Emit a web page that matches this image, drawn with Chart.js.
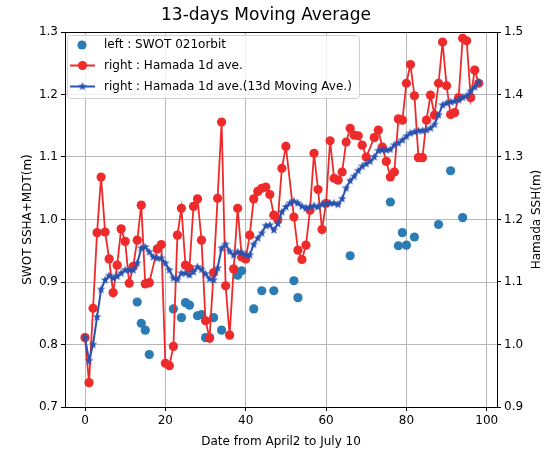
<!DOCTYPE html>
<html>
<head>
<meta charset="utf-8">
<script src="https://cdn.jsdelivr.net/npm/chart.js@4.4.0/dist/chart.umd.min.js"></script>
<style>
  html, body { margin: 0; padding: 0; background: #fff; }
  #wrap { width: 556px; height: 454px; }
</style>
</head>
<body>
<div id="wrap"><canvas id="chart" width="556" height="454"></canvas></div>
<script>
// ============================================
// 13-days Moving Average (SWOT vs Hamada)
// ============================================

const dayCount = 99;  // April 2 .. July 10

// left axis : SWOT 021orbit
const swotDays = [13, 14, 15, 16, 22, 24, 25, 26, 28, 29, 30, 31, 32, 34, 38, 39, 42, 44, 47, 52, 53, 66, 76, 78, 79, 80, 82, 88, 91, 94];
const swotSsh  = [0.868, 0.834, 0.823, 0.784, 0.857, 0.843, 0.867, 0.863, 0.846, 0.848, 0.811, 0.811, 0.843, 0.823, 0.911, 0.918,
                  0.857, 0.886, 0.886, 0.902, 0.875, 0.942, 1.028, 0.958, 0.979, 0.959, 0.972, 0.992, 1.078, 1.003];

// right axis : Hamada 1d ave. (null = no data that day)
const hamadaDaily = [
  1.011, 0.939, 1.058, 1.179, 1.268, 1.180, 1.137, 1.083, 1.127, 1.185,
  1.165, 1.098, 1.125, 1.167, 1.223, 1.097, 1.099, null,  1.153, 1.160,
  0.970, 0.966, 0.997, 1.175, 1.218, 1.127, 1.122, 1.221, 1.233, 1.167,
  1.038, 1.010, 1.115, 1.234, 1.356, 1.094, 1.015, 1.121, 1.218, 1.140,
  1.137, 1.175, 1.233, 1.245, 1.250, 1.252, 1.240, 1.207, 1.200, 1.282,
  1.317, null,  1.204, 1.151, 1.136, 1.159, 1.215, 1.306, 1.248, 1.184,
  1.226, 1.326, 1.266, 1.263, 1.276, 1.324, 1.346, 1.335, 1.334, 1.319,
  1.300, null,  1.331, 1.343, 1.316, 1.293, 1.268, 1.276, 1.361, 1.359,
  1.418, 1.448, 1.398, 1.299, 1.299, 1.359, 1.399, 1.367, 1.418, 1.484,
  1.414, 1.368, 1.371, 1.395, 1.490, 1.486, 1.395, 1.439, 1.418
];

// right axis : Hamada 1d ave. (13d Moving Ave.)
const hamadaMA13 = [
  1.011, 0.974, 1.000, 1.044, 1.088, 1.103, 1.110, 1.106, 1.109, 1.114,
  1.119, 1.119, 1.119, 1.130, 1.154, 1.156, 1.148, 1.140, 1.138, 1.138,
  1.130, 1.119, 1.106, 1.104, 1.114, 1.114, 1.111, 1.116, 1.124, 1.120,
  1.113, 1.105, 1.103, 1.122, 1.154, 1.160, 1.149, 1.143, 1.148, 1.147,
  1.143, 1.143, 1.160, 1.170, 1.178, 1.190, 1.191, 1.183, 1.193, 1.212,
  1.220, 1.226, 1.229, 1.226, 1.221, 1.218, 1.220, 1.222, 1.220, 1.224,
  1.225, 1.226, 1.226, 1.224, 1.233, 1.250, 1.262, 1.269, 1.278, 1.285,
  1.289, 1.293, 1.300, 1.310, 1.311, 1.311, 1.312, 1.319, 1.322, 1.327,
  1.333, 1.338, 1.340, 1.342, 1.342, 1.343, 1.346, 1.352, 1.367, 1.383,
  1.386, 1.388, 1.389, 1.391, 1.395, 1.398, 1.405, 1.412, 1.420
];

const xTicks      = [0, 20, 40, 60, 80, 100];
const leftTicks   = [0.7, 0.8, 0.9, 1.0, 1.1, 1.2, 1.3];
const rightTicks  = [0.9, 1.0, 1.1, 1.2, 1.3, 1.4, 1.5];

const legendLabels = ['left : SWOT 021orbit', 'right : Hamada 1d ave.', 'right : Hamada 1d ave.(13d Moving Ave.)'];

const COLOR_SWOT = '#2b7bb4';
const COLOR_RED  = '#ee2a2a';
const COLOR_MA   = '#2a53b0';
const FONT = '"DejaVu Sans", sans-serif';

// filled 5-point star marker like matplotlib '*'
function makeStar(r, color) {
  const c = document.createElement('canvas');
  const size = Math.ceil(r * 2 + 2);
  c.width = size; c.height = size;
  const g = c.getContext('2d');
  g.translate(size / 2, size / 2);
  g.beginPath();
  for (let i = 0; i < 10; i++) {
    const rr = i % 2 === 0 ? r : r * 0.42;
    const a = -Math.PI / 2 + i * Math.PI / 5;
    g.lineTo(rr * Math.cos(a), rr * Math.sin(a));
  }
  g.closePath();
  g.fillStyle = color;
  g.fill();
  return c;
}
const starImg = makeStar(4.6, COLOR_MA);

const days = Array.from({ length: dayCount }, (_, i) => i);
const toPts = (xs, ys) => xs.map((x, i) => ({ x: x, y: ys[i] }));

const fixTicks = (vals) => (scale) => { scale.ticks = vals.map(v => ({ value: v })); };

// frame, titles and in-plot legend (matplotlib style)
const decor = {
  id: 'decor',
  afterDatasetsDraw(chart) {
    const ctx = chart.ctx;
    ctx.save();
    // legend box
    const bx = 67, by = 35, bw = 292, bh = 63;
    ctx.fillStyle = 'rgba(255,255,255,0.8)';
    ctx.strokeStyle = '#d0d0d0';
    ctx.lineWidth = 1;
    ctx.beginPath();
    ctx.roundRect(bx + 0.5, by + 0.5, bw, bh, 3);
    ctx.fill();
    ctx.stroke();

    const rowY = [45, 65.5, 86.5];
    ctx.font = '12px ' + FONT;
    ctx.fillStyle = '#000';
    ctx.textBaseline = 'middle';
    ctx.textAlign = 'left';
    legendLabels.forEach((t, i) => ctx.fillText(t, 104, rowY[i]));

    // swot marker
    ctx.fillStyle = COLOR_SWOT;
    ctx.beginPath(); ctx.arc(82, rowY[0], 4.6, 0, Math.PI * 2); ctx.fill();
    // red line + circle
    ctx.strokeStyle = COLOR_RED; ctx.lineWidth = 2;
    ctx.beginPath(); ctx.moveTo(70, rowY[1]); ctx.lineTo(95, rowY[1]); ctx.stroke();
    ctx.fillStyle = COLOR_RED;
    ctx.beginPath(); ctx.arc(82.5, rowY[1], 4.6, 0, Math.PI * 2); ctx.fill();
    // blue line + star
    ctx.strokeStyle = COLOR_MA; ctx.lineWidth = 2;
    ctx.beginPath(); ctx.moveTo(70, rowY[2]); ctx.lineTo(95, rowY[2]); ctx.stroke();
    ctx.drawImage(starImg, 82.5 - starImg.width / 2, rowY[2] - starImg.height / 2);
    ctx.restore();
  },
  afterDraw(chart) {
    const ctx = chart.ctx;
    const a = chart.chartArea;
    ctx.save();
    // top spine
    ctx.strokeStyle = '#000';
    ctx.lineWidth = 1;
    ctx.beginPath();
    ctx.moveTo(a.left, a.top + 0.5);
    ctx.lineTo(a.right, a.top + 0.5);
    ctx.stroke();

    const cx = (a.left + a.right) / 2;
    const cy = (a.top + a.bottom) / 2;
    ctx.fillStyle = '#000';
    ctx.textAlign = 'center';
    ctx.textBaseline = 'middle';
    ctx.font = '17px ' + FONT;
    ctx.fillText('13-days Moving Average', 266, 16);

    ctx.font = '12px ' + FONT;
    ctx.fillText('Date from April2 to July 10', cx, 442);

    ctx.translate(28, cy);
    ctx.rotate(-Math.PI / 2);
    ctx.fillText('SWOT SSHA+MDT(m)', 0, 0);
    ctx.restore();

    ctx.save();
    ctx.fillStyle = '#000';
    ctx.textAlign = 'center';
    ctx.textBaseline = 'middle';
    ctx.font = '12px ' + FONT;
    ctx.translate(537, cy);
    ctx.rotate(-Math.PI / 2);
    ctx.fillText('Hamada SSH(m)', 0, 0);
    ctx.restore();
  }
};

const tickFont = { family: FONT, size: 12 };

new Chart(document.getElementById('chart').getContext('2d'), {
  type: 'line',
  data: {
    datasets: [
      {
        label: legendLabels[2],
        data: toPts(days, hamadaMA13),
        yAxisID: 'yR',
        borderColor: COLOR_MA,
        borderWidth: 2,
        pointStyle: starImg,
        pointRadius: 4,
        tension: 0,
      },
      {
        label: legendLabels[1],
        data: toPts(days, hamadaDaily),
        yAxisID: 'yR',
        borderColor: COLOR_RED,
        borderWidth: 1.8,
        pointBackgroundColor: COLOR_RED,
        pointBorderWidth: 0,
        pointRadius: 4.6,
        spanGaps: true,
        tension: 0,
      },
      {
        label: legendLabels[0],
        data: toPts(swotDays, swotSsh),
        yAxisID: 'yL',
        showLine: false,
        pointBackgroundColor: COLOR_SWOT,
        pointBorderWidth: 0,
        pointRadius: 4.6,
      },
    ]
  },
  options: {
    responsive: false,
    animation: false,
    devicePixelRatio: 1,
    layout: { padding: { top: 32, left: 0, right: 0, bottom: 0 }, autoPadding: false },
    plugins: { legend: { display: false }, title: { display: false }, tooltip: { enabled: false } },
    scales: {
      x: {
        type: 'linear',
        position: 'bottom',
        min: -4.98, max: 102.55,
        afterBuildTicks: fixTicks(xTicks),
        afterFit: (s) => { s.height = 47; },
        grid: { color: '#b8b8b8', lineWidth: 1, tickColor: '#000', tickLength: 4 },
        border: { color: '#000', width: 1 },
        ticks: { color: '#000', font: tickFont, padding: 3, maxRotation: 0, callback: (v) => String(v) },
      },
      yL: {
        type: 'linear',
        position: 'left',
        min: 0.7, max: 1.3,
        afterBuildTicks: fixTicks(leftTicks),
        afterFit: (s) => { s.width = 65; },
        grid: { color: '#b8b8b8', lineWidth: 1, tickColor: '#000', tickLength: 4 },
        border: { color: '#000', width: 1 },
        ticks: { color: '#000', font: tickFont, padding: 3, callback: (v) => Number(v).toFixed(1) },
      },
      yR: {
        type: 'linear',
        position: 'right',
        min: 0.9, max: 1.5,
        afterBuildTicks: fixTicks(rightTicks),
        afterFit: (s) => { s.width = 59; },
        grid: { drawOnChartArea: false, tickColor: '#000', tickLength: 4 },
        border: { color: '#000', width: 1 },
        ticks: { color: '#000', font: tickFont, padding: 3, callback: (v) => Number(v).toFixed(1) },
      },
    }
  },
  plugins: [decor]
});
</script>
</body>
</html>
